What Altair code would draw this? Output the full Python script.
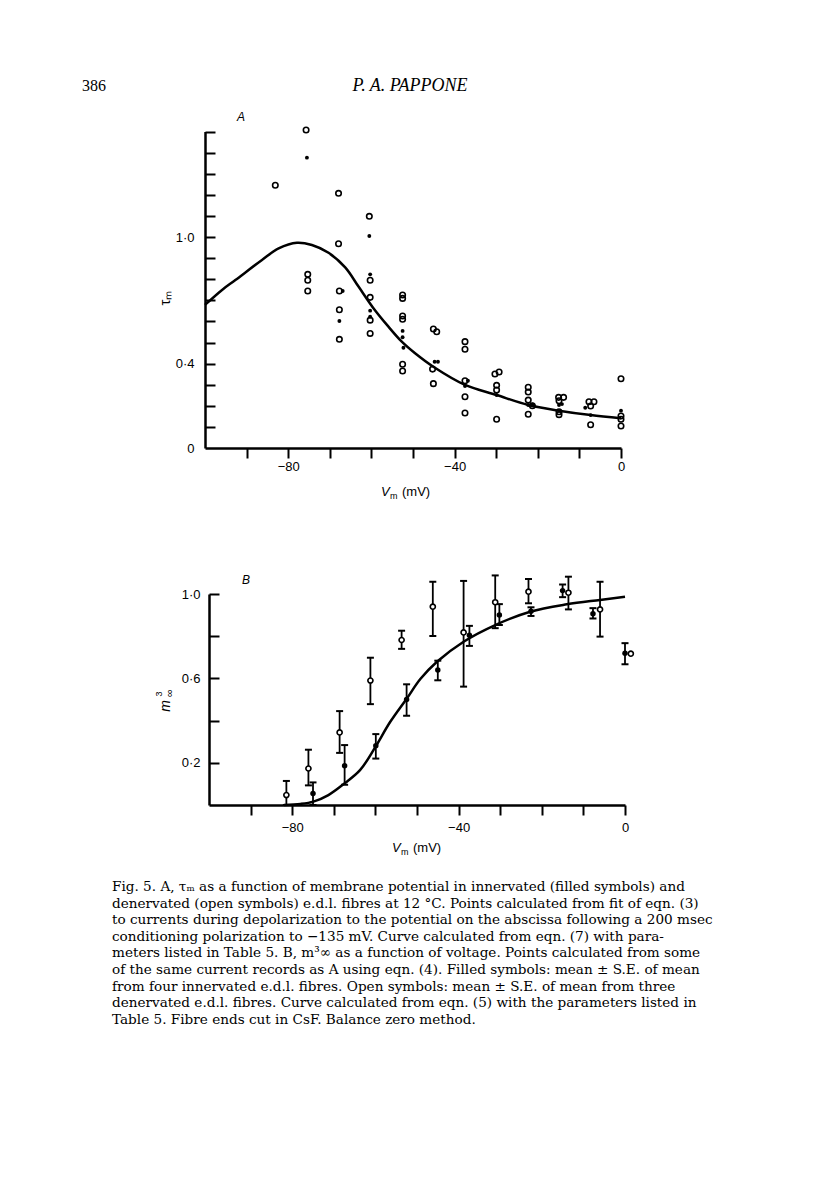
import altair as alt
import pandas as pd

# ---------------- Panel A: tau_m vs Vm ----------------
a_open_v = [-83.1, -75.7, -75.3, -75.3, -75.3, -67.9, -67.9, -67.7, -67.7, -67.7,
            -60.5, -60.3, -60.3, -60.3, -60.3, -52.5, -52.5, -52.5, -52.5, -52.5, -52.5,
            -45.1, -44.3, -45.3, -45.1, -37.5, -37.5, -37.5, -37.5, -37.5,
            -30.3, -29.3, -29.9, -29.9, -29.9, -22.3, -22.3, -22.3, -21.3, -22.3,
            -15.0, -13.8, -14.9, -14.9, -14.9, -7.7, -6.5, -7.3, -7.3,
            0.0, 0.0, 0.0, 0.0]
a_open_tau = [1.245, 1.507, 0.823, 0.795, 0.744, 1.207, 0.968, 0.744, 0.655, 0.515,
              1.098, 0.795, 0.714, 0.606, 0.543, 0.725, 0.709, 0.626, 0.610, 0.397, 0.365,
              0.564, 0.551, 0.374, 0.305, 0.504, 0.468, 0.319, 0.243, 0.166,
              0.351, 0.360, 0.297, 0.275, 0.136, 0.288, 0.265, 0.227, 0.200, 0.160,
              0.240, 0.240, 0.224, 0.172, 0.158, 0.219, 0.219, 0.199, 0.110,
              0.328, 0.152, 0.136, 0.104]
a_fill_v = [-75.5, -60.5, -60.3, -66.9, -67.7, -60.3, -60.3, -52.5, -52.5, -52.3,
            -44.8, -44.0, -36.8, -37.5, -29.9, -22.3, -21.3, -14.9, -14.2, -8.6, -7.3, 0.0]
a_fill_tau = [1.376, 1.005, 0.823, 0.744, 0.602, 0.651, 0.622, 0.555, 0.525, 0.475,
              0.409, 0.409, 0.319, 0.294, 0.251, 0.204, 0.206, 0.204, 0.208, 0.191, 0.156, 0.177]
a_curve_v = [-100, -95.9, -92.7, -86.3, -82.3, -77.9, -74.3, -70.3, -66.3, -63.1, -59.6,
             -55.9, -52.7, -49.5, -45.1, -37.5, -29.9, -22.3, -14.9, -7.3, 0]
a_curve_tau = [0.678, 0.749, 0.796, 0.891, 0.946, 0.973, 0.962, 0.925, 0.856, 0.765, 0.665,
               0.575, 0.504, 0.449, 0.385, 0.299, 0.251, 0.204, 0.177, 0.156, 0.141]

# ---------------- Panel B: m_inf^3 vs Vm ----------------
b_open_v = [-81.4, -76.1, -68.6, -61.2, -53.7, -46.2, -38.8, -31.2, -23.2, -13.6, -6.0, 1.4]
b_open_m = [0.047, 0.173, 0.344, 0.590, 0.782, 0.940, 0.818, 0.961, 1.011, 1.006, 0.927, 0.717]
b_open_lo = [0.0, 0.093, 0.247, 0.478, 0.740, 0.801, 0.561, 0.838, 0.956, 0.927, 0.798, None]
b_open_hi = [0.114, 0.262, 0.445, 0.698, 0.826, 1.058, 1.062, 1.088, 1.071, 1.082, 1.058, None]
b_fill_v = [-75.0, -67.4, -59.9, -52.5, -45.0, -37.4, -30.2, -22.6, -15.0, -7.7, 0.0]
b_fill_m = [0.055, 0.186, 0.281, 0.500, 0.640, 0.804, 0.901, 0.918, 1.016, 0.906, 0.719]
b_fill_lo = [0.0, 0.096, 0.220, 0.423, 0.591, 0.754, 0.853, 0.896, 0.985, 0.884, 0.667]
b_fill_hi = [0.107, 0.284, 0.336, 0.572, 0.684, 0.849, 0.952, 0.937, 1.045, 0.933, 0.767]
b_curve_v = [-82, -78, -74.9, -71.3, -67.7, -63.7, -60.1, -56.5, -52.4, -49.2, -45.2,
             -38.8, -31.2, -22.8, -14, -6, 0]
b_curve_m = [0.0, 0.005, 0.016, 0.047, 0.098, 0.165, 0.272, 0.392, 0.506, 0.597, 0.679,
             0.774, 0.853, 0.916, 0.951, 0.972, 0.987]

x_ticks = [-90, -80, -70, -60, -50, -40, -30, -20, -10, 0]
a_y_ticks = [0.1, 0.2, 0.3, 0.4, 0.5, 0.6, 0.7, 0.8, 0.9, 1.0, 1.1, 1.2, 1.3, 1.4, 1.5]
a_y_labels = [0, 0.4, 1.0]
b_y_ticks = [0.2, 0.4, 0.6, 0.8, 1.0]

caption_lines = [
    "Fig. 5. A, \u03c4\u2098 as a function of membrane potential in innervated (filled symbols) and",
    "denervated (open symbols) e.d.l. fibres at 12 \u00b0C. Points calculated from fit of eqn. (3)",
    "to currents during depolarization to the potential on the abscissa following a 200 msec",
    "conditioning polarization to  \u2212135 mV. Curve calculated from eqn. (7) with para-",
    "meters listed in Table 5. B, m\u00b3\u221e as a function of voltage. Points calculated from some",
    "of the same current records as A using eqn. (4). Filled symbols: mean \u00b1 S.E. of mean",
    "from four innervated e.d.l. fibres. Open symbols: mean \u00b1 S.E. of mean from three",
    "denervated e.d.l. fibres. Curve calculated from eqn. (5) with the parameters listed in",
    "Table 5. Fibre ends cut in CsF. Balance zero method.",
]

W, H = 800, 1100
SANS = "Liberation Sans"
SERIF = "Liberation Serif"
CAPFONT = "DejaVu Serif"

dfa_open = pd.DataFrame({"v": a_open_v, "t": a_open_tau})
dfa_fill = pd.DataFrame({"v": a_fill_v, "t": a_fill_tau})
dfa_curve = pd.DataFrame({"v": a_curve_v, "t": a_curve_tau})
dfb_open = pd.DataFrame({"v": b_open_v, "m": b_open_m})
dfb_fill = pd.DataFrame({"v": b_fill_v, "m": b_fill_m})
dfb_curve = pd.DataFrame({"v": b_curve_v, "m": b_curve_m})
err_rows = []
for v, lo, hi in zip(b_open_v, b_open_lo, b_open_hi):
    if lo is not None:
        err_rows.append({"v": v, "lo": lo, "hi": hi})
for v, lo, hi in zip(b_fill_v, b_fill_lo, b_fill_hi):
    err_rows.append({"v": v, "lo": lo, "hi": hi})
dfb_err = pd.DataFrame(err_rows)

def xs(rng):
    return alt.Scale(domain=[-100, 0], range=rng, nice=False, zero=False)

def ys(dom, rng):
    return alt.Scale(domain=dom, range=rng, nice=False, zero=False)

AX_R = [197, 613]
AY_D, AY_R = [0, 1.5], [440, 123.5]
BX_R = [201, 617]
BY_D, BY_R = [0, 1.0], [797, 586]

xlab = ("datum.value == -80 ? '\u221280' : datum.value == -40 ? '\u221240' : "
        "datum.value == 0 ? '0' : ''")

def x_axis(axis_y, pad):
    return alt.Axis(orient="bottom", offset=axis_y - H, values=x_ticks, tickSize=10,
                    tickWidth=2, tickColor="black", domainWidth=2.5, domainColor="black",
                    labelExpr=xlab, labelFont=SANS, labelFontSize=13, labelColor="black",
                    labelPadding=pad, labelFlush=False, labelOverlap=False,
                    title=None, grid=False)

def y_label_axis(axis_x, values, expr, pad):
    return alt.Axis(orient="left", offset=-axis_x, values=values, ticks=False, tickSize=0,
                    domainWidth=2.5, domainColor="black", labelExpr=expr, labelFont=SANS,
                    labelFontSize=13, labelColor="black", labelPadding=pad,
                    labelFlush=False, labelOverlap=False, title=None, grid=False)

def y_tick_axis(axis_x, values):
    return alt.Axis(orient="right", offset=axis_x - W, values=values, ticks=True, tickSize=10,
                    tickWidth=2, tickColor="black", domain=False, labels=False,
                    title=None, grid=False)

a_ylab = ("abs(datum.value - 1) < 1e-6 ? '1\u00b70' : abs(datum.value - 0.4) < 1e-6 ? "
          "'0\u00b74' : datum.value == 0 ? '0' : ''")
b_ylab = ("abs(datum.value - 1) < 1e-6 ? '1\u00b70' : abs(datum.value - 0.6) < 1e-6 ? "
          "'0\u00b76' : abs(datum.value - 0.2) < 1e-6 ? '0\u00b72' : ''")

# ---- Panel A layers
a_open = alt.Chart(dfa_open).mark_point(shape="circle", filled=False, stroke="black",
                                         strokeWidth=1.6, size=30, opacity=1).encode(
    x=alt.X("v:Q", scale=xs(AX_R), axis=x_axis(440, 2)),
    y=alt.Y("t:Q", scale=ys(AY_D, AY_R), axis=y_label_axis(197, a_y_labels, a_ylab, 11)),
)
a_fill = alt.Chart(dfa_fill).mark_circle(size=15, color="black", opacity=1).encode(
    x=alt.X("v:Q", scale=xs(AX_R), axis=None),
    y=alt.Y("t:Q", scale=ys(AY_D, AY_R), axis=y_tick_axis(197, a_y_ticks)),
)
a_curve = alt.Chart(dfa_curve).mark_line(color="black", strokeWidth=2.5,
                                         interpolate="catmull-rom").encode(
    x=alt.X("v:Q", scale=xs(AX_R), axis=None),
    y=alt.Y("t:Q", scale=ys(AY_D, AY_R), axis=None),
)

# ---- Panel B layers
b_curve = alt.Chart(dfb_curve).mark_line(color="black", strokeWidth=2.5,
                                         interpolate="catmull-rom").encode(
    x=alt.X("v:Q", scale=xs(BX_R), axis=None),
    y=alt.Y("m:Q", scale=ys(BY_D, BY_R), axis=None),
)
b_stem = alt.Chart(dfb_err).mark_rule(color="black", strokeWidth=1.8).encode(
    x=alt.X("v:Q", scale=xs(BX_R), axis=None),
    y=alt.Y("lo:Q", scale=ys(BY_D, BY_R), axis=None),
    y2="hi:Q",
)
b_cap_lo = alt.Chart(dfb_err).mark_tick(color="black", orient="horizontal", size=7,
                                        thickness=2, opacity=1).encode(
    x=alt.X("v:Q", scale=xs(BX_R), axis=None),
    y=alt.Y("lo:Q", scale=ys(BY_D, BY_R), axis=None),
)
b_cap_hi = alt.Chart(dfb_err).mark_tick(color="black", orient="horizontal", size=7,
                                        thickness=2, opacity=1).encode(
    x=alt.X("v:Q", scale=xs(BX_R), axis=None),
    y=alt.Y("hi:Q", scale=ys(BY_D, BY_R), axis=None),
)
b_open = alt.Chart(dfb_open).mark_point(shape="circle", filled=True, fill="white",
                                         stroke="black", strokeWidth=1.6, size=26,
                                         opacity=1).encode(
    x=alt.X("v:Q", scale=xs(BX_R), axis=x_axis(797, 6)),
    y=alt.Y("m:Q", scale=ys(BY_D, BY_R), axis=y_label_axis(201, b_y_ticks, b_ylab, 9)),
)
b_fill = alt.Chart(dfb_fill).mark_circle(size=30, color="black", opacity=1).encode(
    x=alt.X("v:Q", scale=xs(BX_R), axis=None),
    y=alt.Y("m:Q", scale=ys(BY_D, BY_R), axis=y_tick_axis(201, b_y_ticks)),
)

# ---- Text (page coordinates minus 8 px margin)
one = alt.Data(values=[{}])

def txt(s, px, py, size=13, font=SANS, style="normal", weight="normal", align="left",
        angle=0, baseline="middle"):
    return alt.Chart(one).mark_text(text=s, font=font, fontSize=size, fontStyle=style,
                                    fontWeight=weight, align=align, angle=angle,
                                    baseline=baseline, color="black").encode(
        x=alt.value(px - 8), y=alt.value(py - 8))

texts = [
    txt("386", 82, 86, size=16, font=SERIF),
    txt("P. A. PAPPONE", 410, 86, size=18, font=SERIF, style="italic", align="center"),
    txt("A", 241, 117, size=12, style="italic", align="center"),
    txt("B", 246, 580, size=12, style="italic", align="center"),
    # axis titles A
    txt("\u03c4\u2098", 165, 298, size=15, align="center", angle=270),
    txt("V", 381, 492, size=13, style="italic"),
    txt("m", 390, 496, size=9),
    txt("(mV)", 402, 492, size=13),
    # axis titles B
    txt("V", 392, 848, size=13, style="italic"),
    txt("m", 401, 852, size=9),
    txt("(mV)", 413, 848, size=13),
    txt("m", 166, 706, size=14, style="italic", align="center", angle=270),
    txt("3", 159, 694, size=9, align="center", angle=270),
    txt("\u221e", 170, 693, size=11, align="center", angle=270),
]
for i, line in enumerate(caption_lines):
    texts.append(txt(line, 112, 887 + i * 16.6, size=13.6, font=CAPFONT))

chart = alt.layer(
    a_curve, a_open, a_fill,
    b_curve, b_stem, b_cap_lo, b_cap_hi, b_open, b_fill,
    *texts,
).resolve_scale(x="independent", y="independent").resolve_axis(
    x="independent", y="independent"
).properties(
    width=W, height=H, autosize=alt.AutoSizeParams(type="none"), padding=0,
    background="white",
).configure_view(stroke=None)

chart.save("out.html", embed_options={"renderer": "svg", "actions": False})
